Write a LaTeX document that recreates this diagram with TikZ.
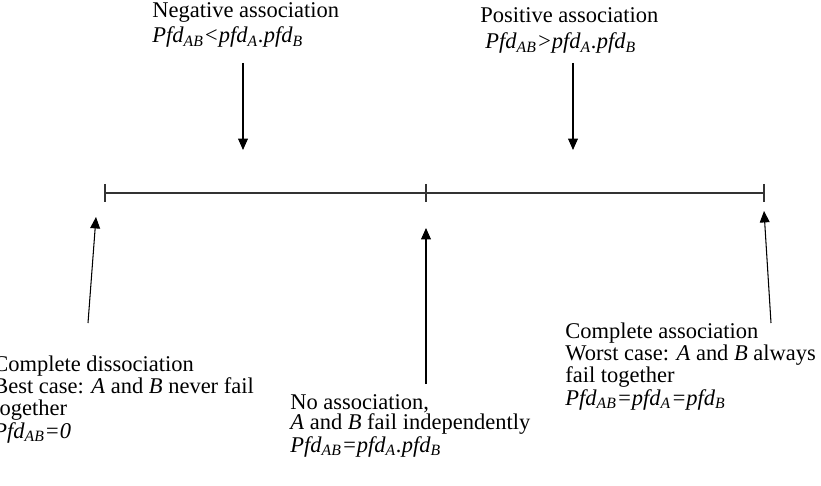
\documentclass[tikz,border=0pt]{standalone}
\usepackage{fontspec}
\setmainfont{Liberation Serif}
\usepackage{tikz}
\usetikzlibrary{positioning,arrows.meta,calc}

% probability of failure on demand, e.g. \pfdof{P}{AB}
\newcommand{\pfdof}[2]{\textit{#1fd}\textsubscript{\textit{#2}}}

\begin{document}
\begin{tikzpicture}[
    x=0.02cm, y=-0.02cm,
    caption/.style={anchor=base west, inner sep=0pt, align=left,
                    font=\fontsize{12.8}{12.6}\selectfont},
    axis/.style={line width=0.8pt, draw=black!80},
    arrow/.style={-{Triangle[length=6.5pt, width=5.6pt]}, line width=0.6pt},
    tickmark/.style={line width=0.8pt, draw=black!80}
]
\useasboundingbox (0,0) rectangle (821,486);

% Scale
\coordinate (lo) at (105,193);
\coordinate (mid) at (426,193);
\coordinate (hi) at (764,193);
\draw[axis] (lo) -- (mid) -- (hi);
\foreach \pt in {lo,mid,hi}
    \draw[tickmark] ($(\pt)+(0,-9)$) -- ($(\pt)+(0,9)$);

% Top labels (anchored at the last baseline)
\node[caption] (neg) at (152,43) {Negative association\\[2.1pt]
    \pfdof{P}{AB}\textit{<}\pfdof{p}{A}\textit{.}\pfdof{p}{B}};
\node[caption] (pos) at (480,49) {Positive association\\[2.4pt]
    \hspace{0.1cm}\pfdof{P}{AB}\textit{>}\pfdof{p}{A}\textit{.}\pfdof{p}{B}};

% Bottom labels
\node[caption] (dis) at (-7,438) {Complete dissociation\\
    Best case: \textit{A} and \textit{B} never fail\\
    together\\
    \pfdof{P}{AB}\textit{=0}};
\node[caption, font=\fontsize{12.8}{11.4}\selectfont] (none) at (290,452) {No association,\\
    \textit{A} and \textit{B} fail independently\\
    \pfdof{P}{AB}\textit{=}\pfdof{p}{A}\textit{.}\pfdof{p}{B}};
\node[caption] (full) at (565,405) {Complete association\\
    Worst case: \textit{A} and \textit{B} always\\
    fail together\\
    \pfdof{P}{AB}\textit{=}\pfdof{p}{A}\textit{=}\pfdof{p}{B}};

% Arrows - top
\coordinate (negtail) at (243,63);
\coordinate (negtip) at (243,150);
\coordinate (postail) at (573,63);
\coordinate (postip) at (573,150);
\draw[arrow] (negtail) -- (negtip);
\draw[arrow] (postail) -- (postip);

% Arrows - bottom
\coordinate (distail) at (88,323);
\coordinate (distip) at (96,217);
\coordinate (nonetail) at (426,384);
\coordinate (nonetip) at (426,228);
\coordinate (fulltail) at (771,323);
\coordinate (fulltip) at (764,211);
\draw[arrow] (distail) -- (distip);
\draw[arrow] (nonetail) -- (nonetip);
\draw[arrow] (fulltail) -- (fulltip);

\end{tikzpicture}
\end{document}
